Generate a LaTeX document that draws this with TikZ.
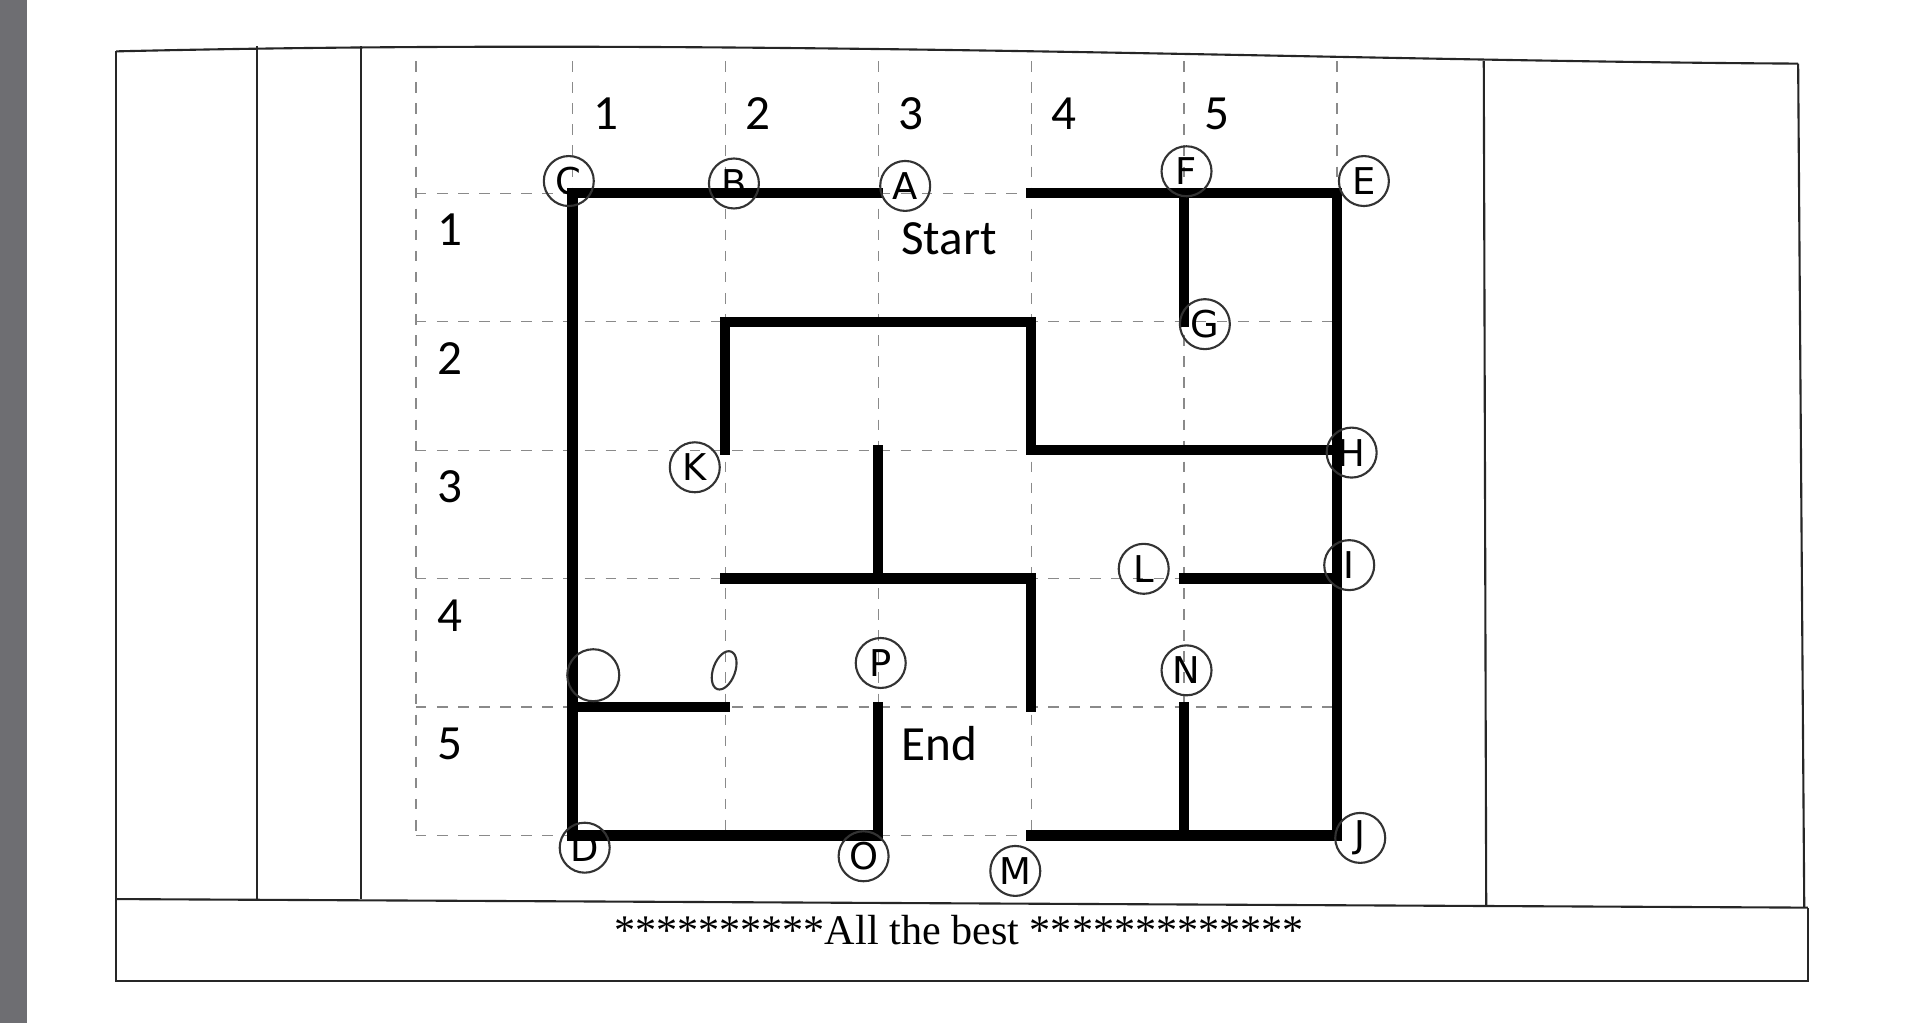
\documentclass[tikz,border=0pt]{standalone}
\usepackage{fontspec}
\setmainfont{Liberation Serif}
\newfontfamily\calfont{Carlito}
\newfontfamily\handfont{DejaVu Sans}
\usepackage{xcolor}
\usetikzlibrary{positioning, calc, shapes.geometric}
\definecolor{papergrey}{HTML}{6E6E72}
\definecolor{gridgrey}{HTML}{8A8A8A}

\begin{document}
\begin{tikzpicture}[x=0.012232cm, y=-0.012232cm,
  frame/.style={draw=black!85, line width=0.6pt},
  gridline/.style={draw=gridgrey, dashed, line width=0.35pt},
  wall/.style={draw=black, line width=2.9pt, line cap=rect},
  label/.style={font=\calfont\fontsize{14}{16}\selectfont},
  tag/.style={draw=black!80, circle, line width=0.6pt, minimum size=0.5cm,
    inner sep=0pt, font=\handfont\fontsize{10.5}{12}\selectfont}]
  \useasboundingbox (0,0) rectangle (1568,836);
  \fill[white] (0,0) rectangle (1568,836);
  \fill[papergrey] (0,0) rectangle (22,836);

  % outer table
  \draw[frame] (95,42) .. controls (600,30) and (1100,50) .. (1470,52);
  \draw[frame] (95,42) -- (95,802) -- (1478,802) -- (1478,742);
  \draw[frame] (1470,52) -- (1475,742);
  \draw[frame] (95,735) -- (1478,742);
  \foreach \tx in {210,295} \draw[frame] (\tx,38) -- (\tx,735);
  \draw[frame] (1213,50) -- (1215,740);
  \node[font=\fontsize{12}{14}\selectfont] (best) at (784,760)
    {**********All the best *************};

  % grid points
  \foreach \i in {0,...,5}
    \foreach \j in {0,...,5}
      \coordinate (g-\i-\j) at (468+125*\i, 158+105*\j);

  % dashed grid
  \foreach \tx in {340,468,593,718,843,968,1093}
    \draw[gridline] (\tx,50) -- (\tx,683);
  \foreach \ty in {158,263,368,473,578,683}
    \draw[gridline] (340,\ty) -- (1093,\ty);

  % headers
  \foreach \c in {1,...,5} {
    \node[label] (col-\c) at (370+125*\c, 93) {\c};
    \node[label] (row-\c) at (368, 83+105*\c) {\c};
  }
  \node[label] (start) at (776,195) {Start};
  \node[label] (end) at (768,608) {End};

  % maze walls
  \draw[wall] (g-2-0) -- (g-0-0) -- (g-0-5) -- (g-2-5) -- (g-2-4);
  \draw[wall] (g-3-0) -- (g-5-0) -- (g-5-5) -- (g-3-5);
  \draw[wall] (g-4-0) -- (g-4-1);
  \draw[wall] (g-1-2) -- (g-1-1) -- (g-3-1) -- (g-3-2) -- (g-5-2);
  \draw[wall] (g-2-2) -- (g-2-3);
  \draw[wall] (g-1-3) -- (g-3-3) -- (g-3-4);
  \draw[wall] (g-4-3) -- (g-5-3);
  \draw[wall] (g-0-4) -- (g-1-4);
  \draw[wall] (g-4-4) -- (g-4-5);

  % hand-marked points
  \node[tag] (a) at (740,152) {A};
  \node[tag] (b) at (600,150) {B};
  \node[tag] (c) at (465,148) {C};
  \node[tag] (d) at (478,693) {D};
  \node[tag] (e) at (1115,148) {E};
  \node[tag] (f) at (970,140) {F};
  \node[tag] (g) at (985,265) {G};
  \node[tag] (h) at (1105,370) {H};
  \node[tag] (i) at (1103,462) {I};
  \node[tag] (j) at (1112,685) {J};
  \node[tag] (k) at (568,382) {K};
  \node[tag] (l) at (935,465) {L};
  \node[tag] (m) at (830,712) {M};
  \node[tag] (n) at (970,548) {N};
  \node[tag] (o) at (706,700) {O};
  \node[tag] (p) at (720,542) {P};
  \node[tag, minimum size=0.52cm] (q) at (485,552) {};
  \node[tag, ellipse, minimum width=0.22cm, minimum height=0.4cm, rotate=-20] (r) at (592,548) {};
\end{tikzpicture}
\end{document}
